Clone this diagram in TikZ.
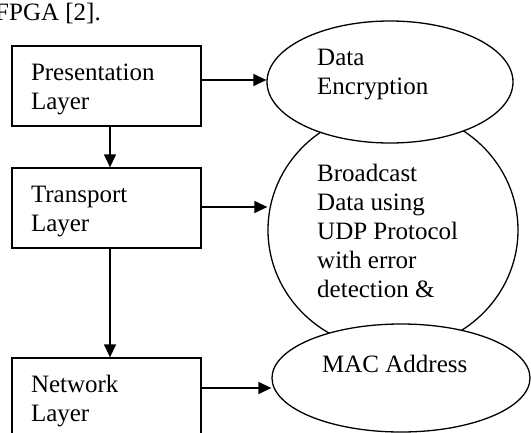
\documentclass[tikz,border=0pt]{standalone}
\usepackage{fontspec}
\setmainfont{Liberation Serif}
\usetikzlibrary{shapes.geometric,arrows.meta}
\begin{document}
\begin{tikzpicture}[x=1pt,y=-1pt,
  every node/.style={font=\fontsize{25}{29}\selectfont},
  box/.style={draw, line width=1.3pt, minimum width=189pt, minimum height=80pt,
    text width=151pt, inner xsep=19pt, align=left, text height=23pt},
  oval/.style={draw, ellipse, line width=1.3pt, inner sep=0pt},
  lbl/.style={align=left, inner sep=0pt, anchor=base west},
  arr/.style={line width=1.3pt, -{Triangle[length=13pt,width=12pt]}}]
\useasboundingbox (0,0) rectangle (531,432);
\clip (0,0) rectangle (531,432);
\node[anchor=base east, inner sep=0pt] (hdr) at (101,20) {FPGA [2].};
\node[box] (p) at (106.5,86) {Presentation\\Layer};
\node[box] (t) at (106.5,208) {Transport\\Layer};
\node[box] (n) at (106.5,398) {Network\\Layer};
\node[oval, minimum width=250pt, minimum height=240pt] (c) at (393,230) {};
\node[lbl] (t2) at (317,297) {Broadcast\\Data using\\UDP Protocol\\with error\\detection \&};
\node[oval, fill=white, minimum width=246pt, minimum height=122pt] (e1) at (390,82) {};
\node[oval, fill=white, minimum width=258pt, minimum height=108pt] (e3) at (401,378) {};
\node[lbl] (t1) at (317,94) {Data\\Encryption};
\node[lbl] (t3) at (322,372) {MAC Address};
\draw[arr] (p.east |- 0,80) -- (e1.west |- 0,80);
\draw[arr] ([xshift=3.5pt]p.south) -- ([xshift=3.5pt]t.north);
\draw[arr] (t.east |- 0,207) -- (c.west |- 0,207);
\draw[arr] ([xshift=3.5pt]t.south) -- ([xshift=3.5pt]n.north);
\draw[arr] (n.east |- 0,388) -- (e3.west |- 0,388);
\end{tikzpicture}
\end{document}
